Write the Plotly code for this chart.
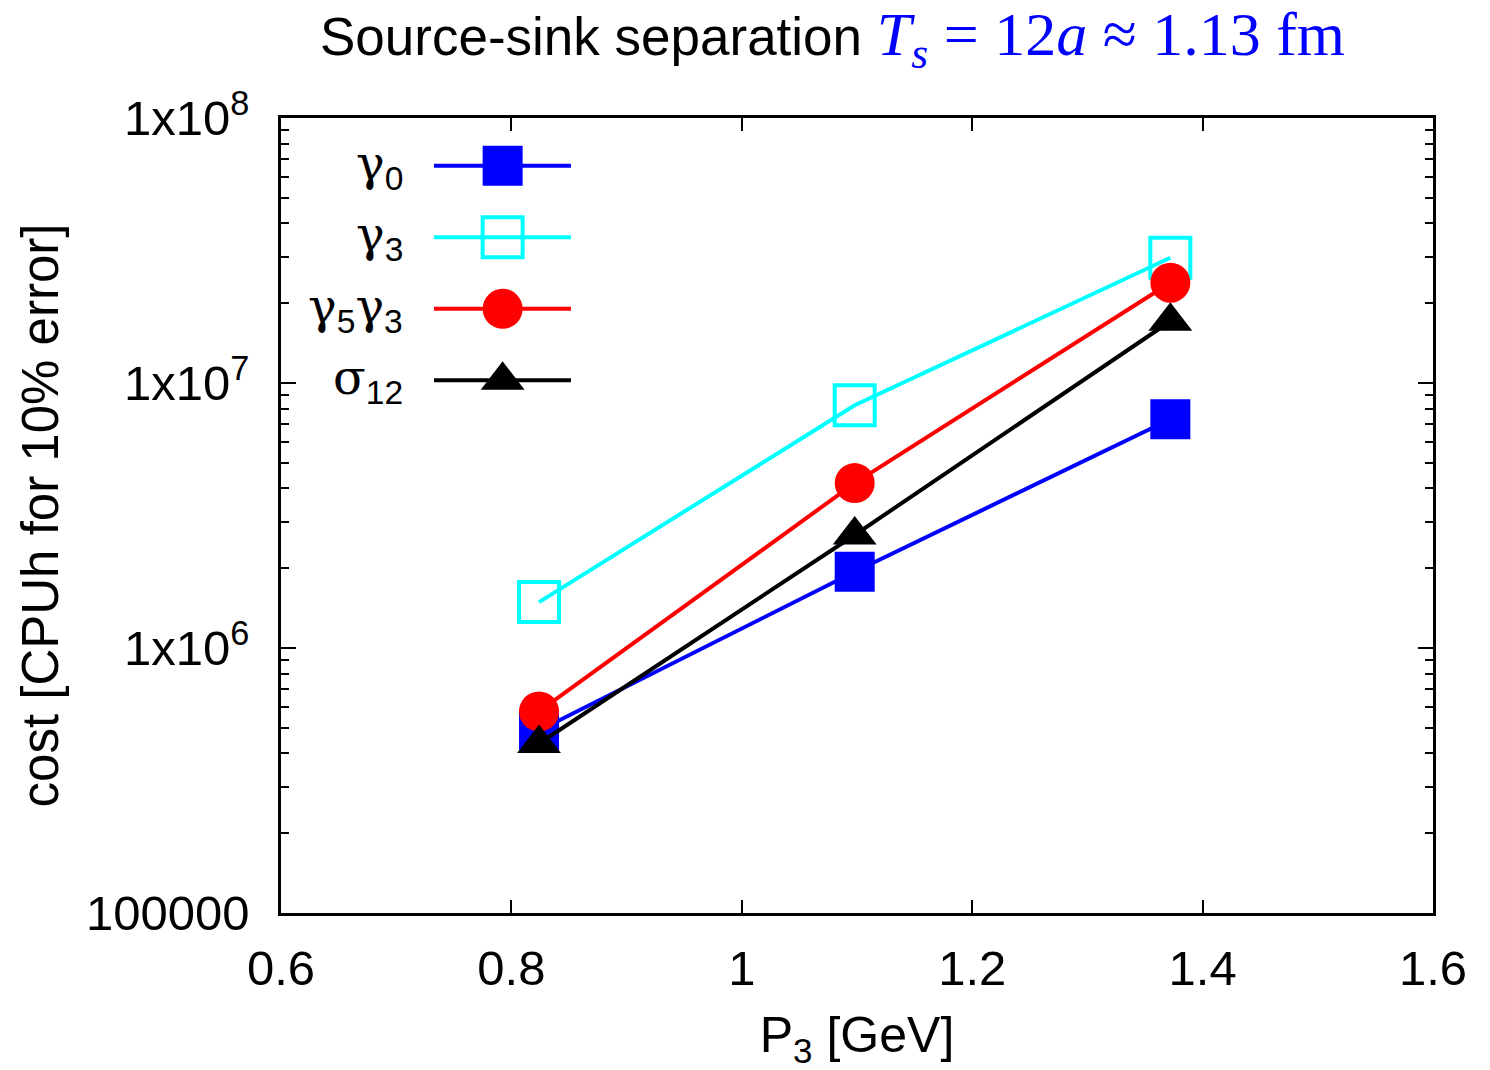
import plotly.graph_objects as go

# ---- data ----
p3 = [0.824, 1.098, 1.372]
series_names = ["γ<sub>0</sub>", "γ<sub>3</sub>", "γ<sub>5</sub>γ<sub>3</sub>", "σ<sub>12</sub>"]
cost_g0 = [4.88e5, 1.94e6, 7.30e6]
cost_g3 = [1.49e6, 8.24e6, 2.97e7]
cost_g5g3 = [5.76e5, 4.19e6, 2.39e7]
cost_s12 = [4.36e5, 2.67e6, 1.71e7]

y_tickvals = [1e5, 1e6, 1e7, 1e8]
y_ticktext = ["100000", "1x10<sup>6</sup>", "1x10<sup>7</sup>", "1x10<sup>8</sup>"]
x_tickvals = [0.6, 0.8, 1.0, 1.2, 1.4, 1.6]
x_ticktext = ["0.6", "0.8", "1", "1.2", "1.4", "1.6"]

FONT = "Liberation Sans, Arial, sans-serif"
GREEK = "DejaVu Serif, Liberation Serif, serif"

styles = [
    dict(color="#0000ff", symbol="square", size=40, open=False),
    dict(color="#00ffff", symbol="square-open", size=40, open=True),
    dict(color="#ff0000", symbol="circle", size=40, open=False),
    dict(color="#000000", symbol="triangle-up", size=38, open=False),
]
all_series = [cost_g0, cost_g3, cost_g5g3, cost_s12]

fig = go.Figure()
for vals, st in zip(all_series, styles):
    fig.add_trace(go.Scatter(
        x=p3, y=vals, mode="lines+markers",
        line=dict(color=st["color"], width=4),
        marker=dict(symbol=st["symbol"], size=st["size"], color=st["color"],
                    line=dict(color=st["color"], width=4 if st["open"] else 0)),
        showlegend=False, cliponaxis=False,
    ))

# legend samples drawn on an overlay axis (0..1 fraction of plot area)
leg_rows = [0.940, 0.850, 0.760, 0.670]
leg_x0, leg_x1, leg_xm = 0.1328, 0.2517, 0.1924
for name, st, yr in zip(series_names, styles, leg_rows):
    fig.add_trace(go.Scatter(
        x=[leg_x0, leg_x1], y=[yr, yr], mode="lines",
        line=dict(color=st["color"], width=4),
        xaxis="x2", yaxis="y2", showlegend=False, hoverinfo="skip"))
    fig.add_trace(go.Scatter(
        x=[leg_xm], y=[yr], mode="markers",
        marker=dict(symbol=st["symbol"], size=st["size"], color=st["color"],
                    line=dict(color=st["color"], width=4 if st["open"] else 0)),
        xaxis="x2", yaxis="y2", showlegend=False, hoverinfo="skip"))
    label = name.replace("γ", '<span style="font-family:%s">γ</span>' % GREEK) \
                .replace("σ", '<span style="font-family:%s">σ</span>' % GREEK)
    fig.add_annotation(
        x=0.108, y=yr, xref="x2", yref="y2", text=label, showarrow=False,
        xanchor="right", yanchor="middle", font=dict(family=FONT, size=48, color="black"))

minor_vals = [m * 10 ** k for k in range(5, 8) for m in range(2, 10)]

fig.update_layout(
    width=1490, height=1070,
    margin=dict(l=281, r=57, t=118, b=155),
    paper_bgcolor="white", plot_bgcolor="white",
    font=dict(family=FONT, size=49, color="black"),
    xaxis=dict(
        range=[0.6, 1.6], tickvals=x_tickvals, ticktext=x_ticktext,
        ticks="inside", ticklen=13, tickwidth=1.5, tickcolor="black",
        showline=True, linecolor="black", linewidth=2.5, mirror="allticks",
        showgrid=False, zeroline=False, ticklabelstandoff=10,
        tickfont=dict(size=49),
        title=dict(text="P<sub>3</sub> [GeV]", font=dict(size=50), standoff=28),
    ),
    yaxis=dict(
        type="log", range=[5, 8], tickvals=y_tickvals, ticktext=y_ticktext,
        ticks="inside", ticklen=15, tickwidth=1.5, tickcolor="black",
        showline=True, linecolor="black", linewidth=2.5, mirror="allticks",
        showgrid=False, zeroline=False, ticklabelstandoff=19,
        tickfont=dict(size=49),
        minor=dict(tickvals=minor_vals, ticks="inside", ticklen=8, tickwidth=1.5,
                   tickcolor="black", showgrid=False),
        title=dict(text="cost [CPUh for 10% error]", font=dict(size=51), standoff=12),
    ),
    xaxis2=dict(range=[0, 1], overlaying="x", visible=False, fixedrange=True),
    yaxis2=dict(range=[0, 1], overlaying="y", visible=False, fixedrange=True),
)

fig.add_annotation(
    x=(832 - 281) / 1152, y=(915 - 38) / 797, xref="paper", yref="paper",
    xanchor="center", yanchor="middle", showarrow=False,
    text=('Source-sink separation '
          '<span style="color:#0000ff; font-size:62px; font-family:Liberation Serif, DejaVu Serif, serif">'
          '<i>T</i><sub><i>s</i></sub> = 12<i>a</i> ≈ 1.13 fm</span>'),
    font=dict(family=FONT, size=53, color="black"),
)

fig.write_html("out.html")
